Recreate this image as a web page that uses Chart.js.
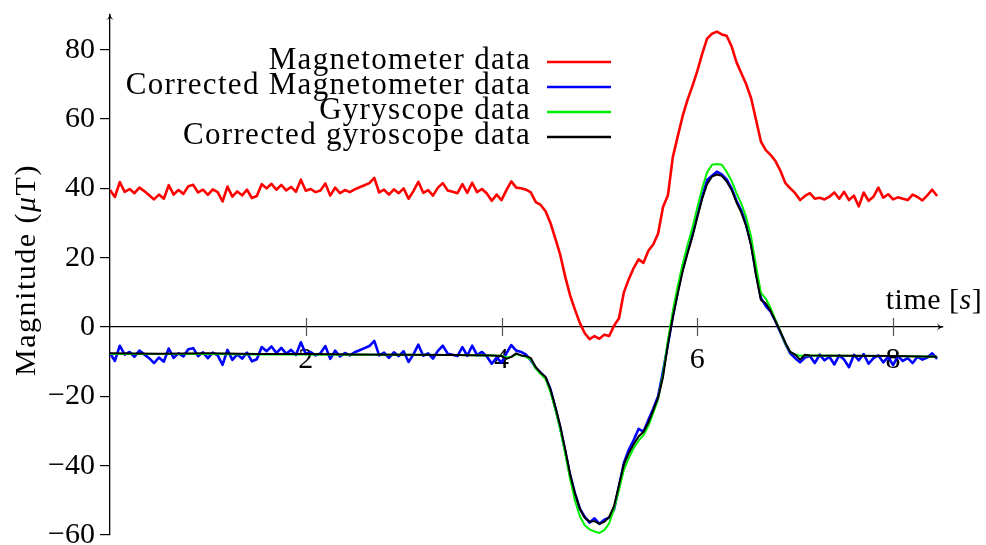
<!DOCTYPE html>
<html>
<head>
<meta charset="utf-8">
<script src="https://cdn.jsdelivr.net/npm/chart.js@4.4.0/dist/chart.umd.min.js"></script>
<style>
  body { margin: 0; background: #fff; }
  #wrap { width: 986px; height: 545px; }
</style>
</head>
<body>
<div id="wrap"><canvas id="magChart" width="986" height="545"></canvas></div>
<script>
// sample times (s) of the raw magnetometer traces
const timeSamples = [
  0.00, 0.05, 0.10, 0.15, 0.20, 0.25, 0.30, 0.35, 0.40, 0.45,
  0.50, 0.55, 0.60, 0.65, 0.70, 0.75, 0.80, 0.85, 0.90, 0.95,
  1.00, 1.05, 1.10, 1.15, 1.20, 1.25, 1.30, 1.35, 1.40, 1.45,
  1.50, 1.55, 1.60, 1.65, 1.70, 1.75, 1.80, 1.85, 1.90, 1.95,
  2.00, 2.05, 2.10, 2.15, 2.20, 2.25, 2.30, 2.35, 2.40, 2.45,
  2.50, 2.55, 2.60, 2.65, 2.70, 2.75, 2.80, 2.85, 2.90, 2.95,
  3.00, 3.05, 3.10, 3.15, 3.20, 3.25, 3.30, 3.35, 3.40, 3.45,
  3.50, 3.55, 3.60, 3.65, 3.70, 3.75, 3.80, 3.85, 3.90, 3.95,
  4.00, 4.05, 4.10, 4.15, 4.20, 4.25, 4.30, 4.35, 4.40, 4.45,
  4.50, 4.55, 4.60, 4.65, 4.70, 4.75, 4.80, 4.85, 4.90, 4.95,
  5.00, 5.05, 5.10, 5.15, 5.20, 5.25, 5.30, 5.35, 5.40, 5.45,
  5.50, 5.55, 5.60, 5.65, 5.70, 5.75, 5.80, 5.85, 5.90, 5.95,
  6.00, 6.05, 6.10, 6.15, 6.20, 6.25, 6.30, 6.35, 6.40, 6.45,
  6.50, 6.55, 6.60, 6.65, 6.70, 6.75, 6.80, 6.85, 6.90, 6.95,
  7.00, 7.05, 7.10, 7.15, 7.20, 7.25, 7.30, 7.35, 7.40, 7.45,
  7.50, 7.55, 7.60, 7.65, 7.70, 7.75, 7.80, 7.85, 7.90, 7.95,
  8.00, 8.05, 8.10, 8.15, 8.20, 8.25, 8.30, 8.35, 8.40, 8.45
];

const magnetometer = [
  39.5, 37.5, 41.8, 39.0, 39.8, 38.6, 40.2, 39.2, 38.0, 36.8,
  38.2, 37.0, 40.9, 38.2, 39.5, 38.4, 40.6, 41.0, 38.8, 39.6,
  38.1, 39.7, 38.9, 36.2, 40.5, 37.6, 39.1, 38.0, 39.6, 37.2,
  37.8, 41.2, 40.0, 41.3, 39.6, 41.0, 39.4, 40.4, 39.0, 42.5,
  39.3, 39.8, 38.9, 39.4, 41.4, 37.9, 40.2, 38.6, 39.5, 38.9,
  39.7, 40.3, 40.9, 41.5, 43.0, 38.8, 39.6, 38.2, 39.7, 38.6,
  40.0, 37.0, 39.2, 41.9, 38.7, 39.5, 37.9, 40.2, 41.5, 39.4,
  39.0, 38.6, 41.2, 38.7, 41.6, 38.9, 39.8, 38.5, 36.4, 38.2,
  36.6, 39.5, 42.0, 40.2, 40.0, 39.6, 38.8, 36.0, 35.2, 33.4,
  30.0, 25.5, 20.8, 14.6, 9.2, 5.0, 1.2, -1.8, -3.5, -2.6,
  -3.4, -2.2, -2.6, 0.4, 2.5, 10.0, 13.8, 17.0, 19.5, 18.5,
  22.0, 23.8, 27.0, 34.6, 38.0, 49.0, 55.0, 60.8, 65.5, 69.5,
  73.8, 78.8, 83.2, 84.6, 85.2, 84.4, 84.0, 81.0, 76.4, 73.2,
  70.0, 66.0, 59.8, 53.5, 51.0, 49.6, 47.8, 45.0, 41.5, 40.0,
  38.6, 36.6, 37.8, 38.6, 37.0, 37.3, 36.8, 37.6, 38.8, 37.0,
  39.0, 36.6, 37.9, 34.8, 38.8, 36.4, 37.6, 40.2, 37.3, 38.3,
  36.8, 37.4, 37.0, 36.6, 38.2, 37.5, 36.5, 38.0, 39.6, 37.8
];

const correctedMagnetometer = [
  -7.5, -9.8, -5.4, -8.0, -7.2, -8.6, -6.8, -7.9, -9.0, -10.4,
  -8.8, -10.0, -6.2, -8.9, -7.6, -8.5, -6.4, -6.1, -8.4, -7.3,
  -9.0, -7.4, -8.2, -10.9, -6.6, -9.5, -7.9, -9.1, -7.4, -9.9,
  -9.3, -5.8, -7.0, -5.6, -7.5, -6.0, -7.7, -6.6, -8.1, -4.4,
  -7.8, -7.2, -8.2, -7.6, -5.5, -9.2, -6.8, -8.5, -7.5, -8.2,
  -7.3, -6.7, -6.1, -5.5, -4.0, -8.2, -7.4, -8.9, -7.3, -8.4,
  -7.0, -10.1, -7.9, -5.1, -8.3, -7.6, -9.1, -6.9, -5.4, -7.7,
  -8.0, -8.4, -5.8, -8.3, -5.4, -8.1, -7.2, -8.5, -10.6, -8.8,
  -10.3, -7.6, -5.2, -6.8, -7.2, -8.0, -9.6, -11.8, -13.2, -14.6,
  -18.0, -23.4, -29.0, -35.8, -42.6, -48.0, -52.4, -54.8, -56.4, -55.2,
  -56.8, -55.6, -55.0, -52.6, -46.0, -39.2, -35.4, -32.6, -29.4, -30.2,
  -26.8, -23.6, -20.0, -12.8, -5.0, 3.0, 10.4, 16.8, 21.8, 26.8,
  32.4, 37.6, 42.4, 43.6, 44.8, 44.0, 42.6, 40.0, 36.4, 33.6,
  29.6, 24.0, 15.6, 8.4, 6.0, 4.4, 1.6, -1.6, -4.8, -7.6,
  -9.0, -10.2, -8.8, -8.4, -10.4, -8.0, -9.6, -8.6, -10.8, -8.2,
  -9.4, -11.6, -8.0, -9.6, -7.8, -10.6, -9.0, -8.2, -10.2, -8.6,
  -11.0, -8.4, -9.8, -9.0, -10.4, -8.6, -9.4, -8.8, -7.6, -9.2
];

// gyroscope traces are smooth, so fewer knots
const gyroTimes = [
  0, 0.5, 1.0, 1.5, 2.0, 2.5, 3.0, 3.5, 3.9,
  4.00, 4.05, 4.10, 4.15, 4.20, 4.25, 4.30, 4.35, 4.40, 4.45,
  4.50, 4.55, 4.60, 4.65, 4.70, 4.75, 4.80, 4.85, 4.90, 4.95,
  5.00, 5.05, 5.10, 5.15, 5.20, 5.25, 5.30, 5.35, 5.40, 5.45,
  5.50, 5.55, 5.60, 5.65, 5.70, 5.75, 5.80, 5.85, 5.90, 5.95,
  6.00, 6.05, 6.10, 6.15, 6.20, 6.25, 6.30, 6.35, 6.40, 6.45,
  6.50, 6.55, 6.60, 6.65, 6.70, 6.75, 6.80, 6.85, 6.90, 6.95,
  7.00, 7.05, 7.10, 7.15, 7.5, 8.0, 8.45
];

const gyroscope = [
  -7.8, -7.8, -7.8, -7.9, -7.9, -8.0, -8.0, -8.1, -8.2,
  -8.3, -8.8, -8.6, -7.9, -8.2, -8.6, -9.4, -12.0, -13.6, -15.0,
  -18.8, -23.8, -29.6, -36.4, -43.8, -50.0, -54.6, -57.2, -58.4, -59.0,
  -59.4, -58.6, -56.6, -52.4, -47.0, -41.2, -37.8, -35.0, -32.8, -31.2,
  -28.6, -24.8, -20.8, -13.6, -3.8, 4.6, 11.8, 18.2, 23.6, 28.6,
  34.4, 40.0, 44.6, 46.8, 47.0, 46.8, 44.8, 42.2, 38.6, 35.6,
  31.6, 26.0, 17.6, 9.8, 8.2, 5.4, 2.0, -1.4, -4.8, -7.2,
  -8.0, -8.3, -8.2, -8.2, -8.3, -8.4, -8.6
];

const correctedGyroscope = [
  -7.6, -7.7, -7.6, -7.8, -7.8, -7.9, -8.0, -8.1, -8.2,
  -8.4, -9.2, -8.6, -7.6, -8.2, -8.4, -9.0, -11.6, -13.2, -14.4,
  -18.0, -23.0, -28.6, -35.2, -42.4, -48.0, -52.4, -55.0, -56.2, -56.0,
  -56.8, -56.2, -54.8, -51.6, -45.6, -39.6, -36.4, -33.8, -31.6, -30.2,
  -27.6, -24.0, -20.4, -14.4, -5.0, 2.8, 9.6, 16.0, 21.2, 26.0,
  31.6, 37.0, 41.2, 43.4, 44.0, 43.6, 42.0, 39.6, 36.0, 33.0,
  29.0, 23.4, 15.0, 7.8, 6.8, 4.6, 1.6, -1.4, -4.6, -7.2,
  -8.0, -9.4, -8.0, -8.2, -8.3, -8.4, -8.6
];

const xTickValues = [2, 4, 6, 8];
const yTickValues = [-60, -40, -20, 0, 20, 40, 60, 80];

const serif = '"Liberation Serif", "DejaVu Serif", serif';
Chart.defaults.font.family = serif;
Chart.defaults.color = '#000';

function pairUp(xs, ys) {
  return xs.map((x, i) => ({ x: x, y: ys[i] }));
}

// draws text pieces side by side, some of them in italics
function mixedText(ctx, parts, x, y, size) {
  let total = 0;
  parts.forEach(p => {
    ctx.font = (p.italic ? 'italic ' : '') + size + 'px ' + serif;
    p.w = ctx.measureText(p.text).width;
    total += p.w;
  });
  let cx = x - total / 2;
  ctx.textAlign = 'left';
  parts.forEach(p => {
    ctx.font = (p.italic ? 'italic ' : '') + size + 'px ' + serif;
    ctx.fillText(p.text, cx, y);
    cx += p.w;
  });
}

// tick marks crossing the horizontal axis
const crossTicks = {
  id: 'crossTicks',
  beforeDatasetsDraw(chart) {
    const { ctx, scales } = chart;
    const y0 = scales.y.getPixelForValue(0);
    ctx.save();
    ctx.strokeStyle = '#555';
    ctx.lineWidth = 1.2;
    xTickValues.forEach(v => {
      const px = Math.round(scales.x.getPixelForValue(v)) + 0.5;
      ctx.beginPath();
      ctx.moveTo(px, y0 - 9);
      ctx.lineTo(px, y0 + 9);
      ctx.stroke();
    });
    ctx.restore();
  }
};

// arrow heads, axis titles and the legend
const decorations = {
  id: 'decorations',
  afterDraw(chart) {
    const { ctx, chartArea, scales } = chart;
    const y0 = scales.y.getPixelForValue(0);
    ctx.save();
    ctx.fillStyle = '#000';

    ctx.beginPath();
    ctx.moveTo(chartArea.left, chartArea.top - 3);
    ctx.quadraticCurveTo(chartArea.left, chartArea.top + 2, chartArea.left - 4, chartArea.top + 5);
    ctx.lineTo(chartArea.left, chartArea.top + 3);
    ctx.lineTo(chartArea.left + 4, chartArea.top + 5);
    ctx.quadraticCurveTo(chartArea.left, chartArea.top + 2, chartArea.left, chartArea.top - 3);
    ctx.fill();

    ctx.beginPath();
    ctx.moveTo(chartArea.right + 3, y0);
    ctx.quadraticCurveTo(chartArea.right - 2, y0, chartArea.right - 5, y0 - 4);
    ctx.lineTo(chartArea.right - 3, y0);
    ctx.lineTo(chartArea.right - 5, y0 + 4);
    ctx.quadraticCurveTo(chartArea.right - 2, y0, chartArea.right + 3, y0);
    ctx.fill();

    ctx.textBaseline = 'alphabetic';
    ctx.letterSpacing = '0.5px';
    mixedText(ctx, [
      { text: 'time [' }, { text: 's', italic: true }, { text: ']' }
    ], 934, 309, 30);

    ctx.save();
    ctx.letterSpacing = '1.5px';
    ctx.translate(35, 270);
    ctx.rotate(-Math.PI / 2);
    mixedText(ctx, [
      { text: 'Magnitude (' }, { text: '\u03bc', italic: true }, { text: 'T)' }
    ], 0, 0, 30);
    ctx.restore();

    ctx.font = '31px ' + serif;
    ctx.letterSpacing = '1.3px';
    ctx.textAlign = 'right';
    chart.data.datasets.forEach((ds, i) => {
      const ly = 62 + i * 25;
      ctx.fillStyle = '#000';
      ctx.fillText(ds.label, 531, ly + 7);
      ctx.strokeStyle = ds.borderColor;
      ctx.lineWidth = 2.5;
      ctx.beginPath();
      ctx.moveTo(547, ly);
      ctx.lineTo(611, ly);
      ctx.stroke();
    });
    ctx.restore();
  }
};

const ctx = document.getElementById('magChart').getContext('2d');
const magChart = new Chart(ctx, {
  type: 'line',
  data: {
    datasets: [{
      label: 'Magnetometer data',
      data: pairUp(timeSamples, magnetometer),
      borderColor: '#ff0000',
      borderWidth: 2.6,
      order: 3
    }, {
      label: 'Corrected Magnetometer data',
      data: pairUp(timeSamples, correctedMagnetometer),
      borderColor: '#0000ff',
      borderWidth: 2.6,
      order: 2
    }, {
      label: 'Gyryscope data',
      data: pairUp(gyroTimes, gyroscope),
      borderColor: '#00f000',
      borderWidth: 2,
      order: 1
    }, {
      label: 'Corrected gyroscope data',
      data: pairUp(gyroTimes, correctedGyroscope),
      borderColor: '#000000',
      borderWidth: 2,
      order: 0
    }]
  },
  options: {
    responsive: false,
    animation: false,
    events: [],
    layout: { padding: { top: 15, bottom: 10, left: 0, right: 44 } },
    elements: {
      point: { radius: 0 },
      line: { tension: 0, borderJoinStyle: 'round', fill: false }
    },
    plugins: {
      legend: { display: false },
      tooltip: { enabled: false }
    },
    scales: {
      x: {
        type: 'linear',
        position: { y: 0 },
        min: 0,
        max: 8.5,
        afterBuildTicks: (scale) => { scale.ticks = xTickValues.map(v => ({ value: v })); },
        afterFit: (scale) => { scale.paddingLeft = 0; scale.paddingRight = 0; },
        grid: { drawOnChartArea: false, drawTicks: false },
        border: { color: '#000', width: 1.3 },
        ticks: { font: { size: 30 }, padding: 15, maxRotation: 0 }
      },
      y: {
        type: 'linear',
        min: -60,
        max: 90,
        afterBuildTicks: (scale) => { scale.ticks = yTickValues.map(v => ({ value: v })); },
        afterFit: (scale) => {
          scale.width = 110;
          scale.paddingTop = 0;
          scale.paddingBottom = 0;
        },
        grid: { drawOnChartArea: false, drawTicks: true, tickLength: 10, color: '#000', lineWidth: 1.2 },
        border: { color: '#000', width: 1.3 },
        ticks: {
          font: { size: 30 },
          padding: 5,
          callback: (v) => (v < 0 ? '\u2212' + Math.abs(v) : String(v))
        }
      }
    }
  },
  plugins: [crossTicks, decorations]
});
</script>
</body>
</html>
